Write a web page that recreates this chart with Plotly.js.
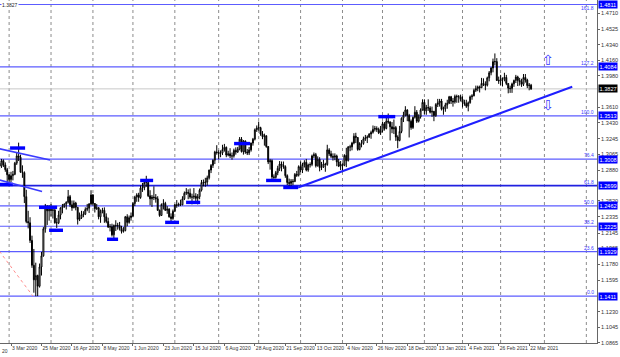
<!DOCTYPE html>
<html><head><meta charset="utf-8">
<script src="https://cdn.plot.ly/plotly-3.0.1.min.js"></script>
<style>html,body{margin:0;padding:0;background:#fff;}#chart{width:620px;height:357px;}</style>
</head><body><div id="chart"></div>
<script>
// ---- trading days (daily bars, GBP/USD style chart) ----
const tradingDays = [
 "2020-02:24 25 26 27 28",
 "2020-03:2 3 4 5 6 9 10 11 12 13 16 17 18 19 20 23 24 25 26 27 30 31",
 "2020-04:1 2 3 6 7 8 9 10 13 14 15 16 17 20 21 22 23 24 27 28 29 30",
 "2020-05:1 4 5 6 7 8 11 12 13 14 15 18 19 20 21 22 25 26 27 28 29",
 "2020-06:1 2 3 4 5 8 9 10 11 12 15 16 17 18 19 22 23 24 25 26 29 30",
 "2020-07:1 2 3 6 7 8 9 10 13 14 15 16 17 20 21 22 23 24 27 28 29 30 31",
 "2020-08:3 4 5 6 7 10 11 12 13 14 17 18 19 20 21 24 25 26 27 28 31",
 "2020-09:1 2 3 4 7 8 9 10 11 14 15 16 17 18 21 22 23 24 25 28 29 30",
 "2020-10:1 2 5 6 7 8 9 12 13 14 15 16 19 20 21 22 23 26 27 28 29 30",
 "2020-11:2 3 4 5 6 9 10 11 12 13 16 17 18 19 20 23 24 25 26 27 30",
 "2020-12:1 2 3 4 7 8 9 10 11 14 15 16 17 18 21 22 23 24 28 29 30 31",
 "2021-01:4 5 6 7 8 11 12 13 14 15 18 19 20 21 22 25 26 27 28 29",
 "2021-02:1 2 3 4 5 8 9 10 11 12 15 16 17 18 19 22 23 24 25 26",
 "2021-03:1 2 3 4 5 8 9 10 11 12 15 16 17 18 19 22 23"
];
// empty future bars shown on the right of the chart
const futureDays = [
 "2021-03:24 25 26 29 30 31",
 "2021-04:1 2 5 6 7 8 9 12 13 14 15 16 19 20 21 22 23 26 27 28 29 30",
 "2021-05:3 4 5 6 7 10 11 12"
];

const open = [
 1.2960,1.2925,1.2990,1.2940,1.2885,
 1.2825,1.2770,1.2815,1.2830,1.2960,1.3045,1.3030,1.2855,1.2850,1.2570,1.2280,1.2265,1.2060,1.1770,1.1600,1.1650,1.1525,1.1750,1.1880,1.2195,1.2460,1.2405,
 1.2420,1.2410,1.2415,1.2265,1.2265,1.2355,1.2440,1.2455,1.2485,1.2505,1.2570,1.2475,1.2440,1.2495,1.2445,1.2305,1.2325,1.2360,1.2365,1.2420,1.2435,1.2485,
 1.2590,1.2490,1.2430,1.2440,1.2335,1.2400,1.2410,1.2335,1.2280,1.2215,1.2220,1.2125,1.2235,1.2230,1.2235,1.2200,1.2165,1.2175,1.2335,1.2270,1.2325,
 1.2345,1.2490,1.2565,1.2590,1.2560,1.2670,1.2675,1.2735,1.2735,1.2580,1.2545,1.2565,1.2560,1.2545,1.2410,1.2350,1.2480,1.2490,1.2410,1.2425,1.2335,1.2315,
 1.2400,1.2475,1.2470,1.2480,1.2475,1.2545,1.2610,1.2620,1.2610,1.2565,1.2565,1.2575,1.2550,1.2570,1.2645,1.2735,1.2730,1.2740,1.2790,1.2880,1.2935,1.2995,1.3090,
 1.3085,1.3075,1.3080,1.3120,1.3145,1.3055,1.3070,1.3045,1.3045,1.3110,1.3090,1.3125,1.3240,1.3095,1.3220,1.3090,1.3080,1.3115,1.3195,1.3240,1.3350,
 1.3370,1.3375,1.3300,1.3270,1.3280,1.3155,1.2975,1.2990,1.2800,1.2795,1.2850,1.2900,1.2950,1.2935,1.2920,1.2815,1.2735,1.2725,1.2750,1.2745,1.2830,1.2820,
 1.2920,1.2880,1.2945,1.2970,1.2880,1.2940,1.2945,1.3045,1.3060,1.2930,1.3005,1.2910,1.2915,1.2950,1.2945,1.3115,1.3070,1.3040,1.3030,1.3045,1.2975,1.2925,
 1.2945,1.2935,1.3050,1.2990,1.3150,1.3150,1.3195,1.3275,1.3260,1.3120,1.3190,1.3190,1.3245,1.3255,1.3265,1.3300,1.3320,1.3355,1.3365,1.3355,1.3315,
 1.3340,1.3420,1.3365,1.3450,1.3440,1.3385,1.3360,1.3375,1.3265,1.3225,1.3330,1.3485,1.3520,1.3580,1.3515,1.3450,1.3375,1.3495,1.3555,1.3450,1.3500,1.3580,
 1.3670,1.3570,1.3610,1.3605,1.3555,1.3565,1.3515,1.3645,1.3665,1.3685,1.3590,1.3595,1.3640,1.3660,1.3735,1.3685,1.3675,1.3740,1.3735,1.3735,
 1.3705,1.3670,1.3655,1.3625,1.3665,1.3735,1.3745,1.3810,1.3830,1.3850,1.3840,1.3890,1.3880,1.3870,1.3955,1.4015,1.4070,1.4145,1.4145,1.3925,
 1.3920,1.3935,1.3950,1.3960,1.3890,1.3835,1.3830,1.3885,1.3925,1.3965,1.3925,1.3910,1.3880,1.3960,1.3930,1.3865,1.3870
];
const high = [
 1.2985,1.3010,1.3005,1.2970,1.2905,
 1.2830,1.2860,1.2870,1.2975,1.3080,1.3200,1.3060,1.2935,1.2865,1.2650,1.2405,1.2330,1.2115,1.1960,1.1800,1.1660,1.1790,1.1925,1.2215,1.2485,1.2470,1.2470,
 1.2485,1.2445,1.2425,1.2320,1.2405,1.2445,1.2485,1.2490,1.2515,1.2648,1.2590,1.2525,1.2525,1.2510,1.2450,1.2385,1.2405,1.2400,1.2445,1.2485,1.2495,1.2645,
 1.2600,1.2495,1.2485,1.2450,1.2420,1.2440,1.2445,1.2375,1.2325,1.2250,1.2255,1.2245,1.2295,1.2265,1.2275,1.2230,1.2215,1.2345,1.2365,1.2350,1.2385,
 1.2505,1.2580,1.2610,1.2615,1.2700,1.2730,1.2745,1.2813,1.2745,1.2645,1.2590,1.2690,1.2600,1.2575,1.2420,1.2490,1.2540,1.2510,1.2460,1.2435,1.2375,1.2420,
 1.2485,1.2530,1.2500,1.2535,1.2575,1.2630,1.2670,1.2655,1.2665,1.2605,1.2670,1.2610,1.2600,1.2665,1.2765,1.2770,1.2790,1.2815,1.2885,1.2950,1.3005,1.3105,1.3170,
 1.3110,1.3110,1.3175,1.3185,1.3155,1.3105,1.3135,1.3085,1.3130,1.3145,1.3150,1.3265,1.3265,1.3230,1.3225,1.3125,1.3150,1.3200,1.3255,1.3365,1.3400,
 1.3445,1.3385,1.3335,1.3305,1.3285,1.3160,1.3010,1.3005,1.2830,1.2870,1.2930,1.2985,1.2980,1.2980,1.2935,1.2830,1.2780,1.2775,1.2775,1.2845,1.2870,1.2935,
 1.2980,1.2965,1.2995,1.3010,1.2955,1.2970,1.3060,1.3085,1.3080,1.3040,1.3030,1.2975,1.3000,1.2965,1.3175,1.3135,1.3105,1.3075,1.3075,1.3060,1.3010,1.2985,
 1.2960,1.3065,1.3140,1.3160,1.3175,1.3210,1.3310,1.3315,1.3265,1.3205,1.3230,1.3270,1.3290,1.3285,1.3310,1.3340,1.3400,1.3395,1.3390,1.3375,1.3395,
 1.3445,1.3440,1.3500,1.3540,1.3450,1.3440,1.3470,1.3395,1.3285,1.3395,1.3495,1.3560,1.3625,1.3590,1.3535,1.3470,1.3505,1.3625,1.3580,1.3530,1.3600,1.3705,
 1.3705,1.3640,1.3705,1.3625,1.3620,1.3570,1.3660,1.3710,1.3710,1.3710,1.3620,1.3665,1.3700,1.3745,1.3745,1.3720,1.3760,1.3760,1.3755,1.3760,
 1.3740,1.3700,1.3700,1.3680,1.3750,1.3765,1.3830,1.3865,1.3865,1.3865,1.3955,1.3950,1.3915,1.3970,1.4035,1.4080,1.4180,1.4240,1.4185,1.3970,
 1.3990,1.3960,1.4015,1.3990,1.3895,1.3865,1.3900,1.3935,1.3990,1.3980,1.3955,1.3945,1.4000,1.4000,1.3945,1.3895,1.3885
];
const low = [
 1.2890,1.2905,1.2915,1.2860,1.2725,
 1.2725,1.2740,1.2760,1.2820,1.2940,1.2985,1.2850,1.2790,1.2495,1.2260,1.2200,1.2030,1.1740,1.1450,1.1409,1.1410,1.1510,1.1650,1.1870,1.2150,1.2240,1.2290,
 1.2340,1.2315,1.2255,1.2205,1.2250,1.2305,1.2375,1.2440,1.2420,1.2490,1.2450,1.2405,1.2435,1.2410,1.2245,1.2285,1.2310,1.2330,1.2355,1.2400,1.2380,1.2470,
 1.2465,1.2385,1.2415,1.2305,1.2265,1.2375,1.2265,1.2260,1.2205,1.2165,1.2105,1.2075,1.2170,1.2185,1.2175,1.2140,1.2150,1.2165,1.2225,1.2255,1.2290,
 1.2330,1.2460,1.2510,1.2510,1.2545,1.2625,1.2645,1.2685,1.2565,1.2470,1.2450,1.2530,1.2500,1.2405,1.2335,1.2345,1.2420,1.2405,1.2370,1.2325,1.2252,1.2300,
 1.2390,1.2440,1.2455,1.2460,1.2470,1.2530,1.2590,1.2540,1.2545,1.2480,1.2540,1.2520,1.2480,1.2540,1.2630,1.2690,1.2685,1.2700,1.2770,1.2845,1.2905,1.2950,1.3060,
 1.3005,1.3030,1.3055,1.3095,1.3030,1.3040,1.3020,1.3000,1.3025,1.3060,1.3080,1.3110,1.3085,1.3060,1.3070,1.3055,1.3055,1.3095,1.3165,1.3225,1.3325,
 1.3340,1.3280,1.3240,1.3165,1.3140,1.2950,1.2885,1.2775,1.2765,1.2780,1.2820,1.2870,1.2865,1.2895,1.2790,1.2705,1.2675,1.2690,1.2705,1.2740,1.2800,1.2805,
 1.2855,1.2845,1.2910,1.2865,1.2860,1.2910,1.2925,1.3020,1.2910,1.2920,1.2865,1.2880,1.2905,1.2860,1.2930,1.3045,1.3020,1.2990,1.2995,1.2925,1.2915,1.2880,
 1.2855,1.2925,1.2915,1.2980,1.3100,1.3110,1.3180,1.3195,1.3105,1.3110,1.3145,1.3175,1.3220,1.3195,1.3255,1.3245,1.3305,1.3330,1.3325,1.3300,1.3290,
 1.3320,1.3340,1.3355,1.3420,1.3225,1.3310,1.3300,1.3220,1.3135,1.3215,1.3310,1.3440,1.3505,1.3450,1.3260,1.3350,1.3360,1.3480,1.3430,1.3435,1.3480,1.3575,
 1.3530,1.3525,1.3570,1.3540,1.3500,1.3450,1.3500,1.3615,1.3620,1.3575,1.3525,1.3560,1.3595,1.3650,1.3650,1.3620,1.3655,1.3665,1.3665,1.3680,
 1.3610,1.3630,1.3605,1.3565,1.3655,1.3700,1.3740,1.3790,1.3800,1.3785,1.3840,1.3860,1.3810,1.3855,1.3915,1.3985,1.4020,1.4100,1.3920,1.3885,
 1.3865,1.3855,1.3915,1.3870,1.3775,1.3780,1.3780,1.3850,1.3895,1.3860,1.3865,1.3850,1.3860,1.3900,1.3835,1.3810,1.3815
];
const close = [
 1.2925,1.2990,1.2940,1.2885,1.2825,
 1.2770,1.2815,1.2830,1.2960,1.3045,1.3030,1.2855,1.2850,1.2570,1.2280,1.2265,1.2060,1.1770,1.1600,1.1650,1.1525,1.1750,1.1880,1.2195,1.2460,1.2405,1.2420,
 1.2410,1.2415,1.2265,1.2265,1.2355,1.2440,1.2455,1.2485,1.2505,1.2570,1.2475,1.2440,1.2495,1.2445,1.2305,1.2325,1.2360,1.2365,1.2420,1.2435,1.2485,1.2590,
 1.2490,1.2430,1.2440,1.2335,1.2400,1.2410,1.2335,1.2280,1.2215,1.2220,1.2125,1.2235,1.2230,1.2235,1.2200,1.2165,1.2175,1.2335,1.2270,1.2325,1.2345,
 1.2490,1.2565,1.2590,1.2560,1.2670,1.2675,1.2735,1.2735,1.2580,1.2545,1.2565,1.2560,1.2545,1.2410,1.2350,1.2480,1.2490,1.2410,1.2425,1.2335,1.2315,1.2400,
 1.2475,1.2470,1.2480,1.2475,1.2545,1.2610,1.2620,1.2610,1.2565,1.2565,1.2575,1.2550,1.2570,1.2645,1.2735,1.2730,1.2740,1.2790,1.2880,1.2935,1.2995,1.3090,1.3085,
 1.3075,1.3080,1.3120,1.3145,1.3055,1.3070,1.3045,1.3045,1.3110,1.3090,1.3125,1.3240,1.3095,1.3220,1.3090,1.3080,1.3115,1.3195,1.3240,1.3350,1.3370,
 1.3375,1.3300,1.3270,1.3280,1.3155,1.2975,1.2990,1.2800,1.2795,1.2850,1.2900,1.2950,1.2935,1.2920,1.2815,1.2735,1.2725,1.2750,1.2745,1.2830,1.2820,1.2920,
 1.2880,1.2945,1.2970,1.2880,1.2940,1.2945,1.3045,1.3060,1.2930,1.3005,1.2910,1.2915,1.2950,1.2945,1.3115,1.3070,1.3040,1.3030,1.3045,1.2975,1.2925,1.2945,
 1.2935,1.3050,1.2990,1.3150,1.3150,1.3195,1.3275,1.3260,1.3120,1.3190,1.3190,1.3245,1.3255,1.3265,1.3300,1.3320,1.3355,1.3365,1.3355,1.3315,1.3340,
 1.3420,1.3365,1.3450,1.3440,1.3385,1.3360,1.3375,1.3265,1.3225,1.3330,1.3485,1.3520,1.3580,1.3515,1.3450,1.3375,1.3495,1.3555,1.3450,1.3500,1.3580,1.3670,
 1.3570,1.3610,1.3605,1.3555,1.3565,1.3515,1.3645,1.3665,1.3685,1.3590,1.3595,1.3640,1.3660,1.3735,1.3685,1.3675,1.3740,1.3735,1.3735,1.3705,
 1.3670,1.3655,1.3625,1.3665,1.3735,1.3745,1.3810,1.3830,1.3850,1.3840,1.3890,1.3880,1.3870,1.3955,1.4015,1.4070,1.4145,1.4145,1.3925,1.3920,
 1.3935,1.3950,1.3960,1.3890,1.3835,1.3830,1.3885,1.3925,1.3965,1.3925,1.3910,1.3880,1.3960,1.3930,1.3865,1.3870,1.3827
];

// ---- axis labels ----
const tickDates = ["2020-03-03","2020-03-25","2020-04-16","2020-05-08","2020-06-01","2020-06-23","2020-07-15","2020-08-06","2020-08-28","2020-09-21","2020-10-13","2020-11-04","2020-11-26","2020-12-18","2021-01-13","2021-02-04","2021-02-26","2021-03-22"];
const tickLabels = ["3 Mar 2020","25 Mar 2020","16 Apr 2020","8 May 2020","1 Jun 2020","23 Jun 2020","15 Jul 2020","6 Aug 2020","28 Aug 2020","21 Sep 2020","13 Oct 2020","4 Nov 2020","26 Nov 2020","18 Dec 2020","13 Jan 2021","4 Feb 2021","26 Feb 2021","22 Mar 2021"];
const leftEdgeLabel = "20";   // tail of the previous date label, cut by the chart's left edge
const priceTicks = [1.4710,1.4525,1.4340,1.4160,1.3980,1.3610,1.3430,1.3245,1.3065,1.2880,1.2520,1.2335,1.2145,1.1965,1.1780,1.1595,1.1230,1.1045,1.0865];

// ---- Fibonacci levels ----
const fibLevels = [1.4811,1.4084,1.3513,1.3008,1.2699,1.2462,1.2225,1.1929,1.1411];
const fibNames = ["161.8","127.2","100.0","76.4","61.8","50.0","38.2","23.6","0.0"];
const currentPrice = 1.3827;

// ---- drawn objects (bar index, price) ----
const boxX0 = [5.5, -2, 20.7, 26.0, 56.4, 73.8, 86.9, 97.9, 123.1, 139.9, 148.9, 198.8];
const boxX1 = [13.4, 7.0, 30.2, 33.3, 62.2, 80.6, 94.2, 105.3, 131.5, 147.8, 156.7, 207.7];
const boxY  = [1.3137,1.2712,1.2445,1.2178,1.2073,1.2759,1.2270,1.2503,1.3189,1.2759,1.2677,1.3503];
const trendMainX = [156.7, 300.6], trendMainY = [1.2677, 1.3852];
const trendUpX = [-2, 26.5], trendUpY = [1.3138, 1.2997];
const trendLoX = [-2, 22.3], trendLoY = [1.2776, 1.2631];
const redDotX = [-2, 17.5], redDotY = [1.1990, 1.1410];
const arrowBar = 288, arrowUpY = 1.4166, arrowDownY = 1.3642;

// ---- build ----
function expand(list){ const out=[]; list.forEach(s=>{ const [ym,ds]=s.split(':'); ds.split(' ').forEach(d=>out.push(ym+'-'+String(d).padStart(2,'0'))); }); return out; }
const dates = expand(tradingDays);
const allDates = dates.concat(expand(futureDays));
const xIdx = dates.map((d,i)=>i);
const tickVals = tickDates.map(d=>dates.indexOf(d));
const gridIdx = [];
allDates.forEach((d,i)=>{ if(i>0 && d.slice(0,7)!==allDates[i-1].slice(0,7)) gridIdx.push(i); });

const FONT = 'Liberation Sans, Arial, sans-serif';
const trace = {
  type:'candlestick', x:xIdx, open:open, high:high, low:low, close:close,
  increasing:{line:{color:'#000000', width:1}, fillcolor:'#ffffff'},
  decreasing:{line:{color:'#000000', width:1}, fillcolor:'#000000'},
  whiskerwidth:0, hoverinfo:'skip', showlegend:false
};

const shapes = [];
gridIdx.forEach(i=>shapes.push({type:'line', xref:'x', yref:'paper', x0:i, x1:i, y0:0, y1:1, line:{color:'#8c8c8c', width:1, dash:'dot'}, layer:'below'}));
fibLevels.forEach((v,k)=>shapes.push({type:'line', xref:'paper', yref:'y', x0:0, x1:1, y0:v, y1:v,
  line:{color: k===4 ? '#2020e0' : '#5c5cff', width: k===4 ? 1.7 : 1.2}, layer:'below'}));
shapes.push({type:'line', xref:'paper', yref:'y', x0:0, x1:1, y0:currentPrice, y1:currentPrice, line:{color:'#c8c8c8', width:1}, layer:'below'});
boxX0.forEach((x0,k)=>shapes.push({type:'rect', xref:'x', yref:'y', x0:x0, x1:boxX1[k], y0:boxY[k]-0.0020, y1:boxY[k]+0.0020, fillcolor:'#0000ff', line:{width:0}}));
shapes.push({type:'line', xref:'x', yref:'y', x0:trendMainX[0], x1:trendMainX[1], y0:trendMainY[0], y1:trendMainY[1], line:{color:'#1f1fff', width:2}});
shapes.push({type:'line', xref:'x', yref:'y', x0:trendUpX[0], x1:trendUpX[1], y0:trendUpY[0], y1:trendUpY[1], line:{color:'#3a3aff', width:1.5}});
shapes.push({type:'line', xref:'x', yref:'y', x0:trendLoX[0], x1:trendLoX[1], y0:trendLoY[0], y1:trendLoY[1], line:{color:'#3a3aff', width:1.5}});
shapes.push({type:'line', xref:'x', yref:'y', x0:redDotX[0], x1:redDotX[1], y0:redDotY[0], y1:redDotY[1], line:{color:'#ff8f8f', width:1, dash:'dot'}});

const annotations = [];
fibLevels.forEach((v,k)=>{
  annotations.push({xref:'paper', yref:'y', x:1, y:v, xanchor:'right', yanchor: k===0 ? 'top' : 'bottom', xshift:-1, yshift: k===0 ? 1 : -1,
    text:fibNames[k], showarrow:false, font:{family:FONT, size:5, color:'#4040ff'}});
  annotations.push({xref:'paper', yref:'y', x:1, y:v, xanchor:'left', yanchor:'middle', xshift:1,
    text:v.toFixed(4), showarrow:false, bgcolor:'#0000ff', borderpad:0.5, font:{family:FONT, size:5.6, color:'#ffffff'}});
});
annotations.push({xref:'paper', yref:'y', x:1, y:currentPrice, xanchor:'left', yanchor:'middle', xshift:1,
  text:currentPrice.toFixed(4), showarrow:false, bgcolor:'#000000', borderpad:0.5, font:{family:FONT, size:5.6, color:'#ffffff'}});
annotations.push({xref:'x', yref:'y', x:arrowBar, y:arrowUpY, text:'⇧', showarrow:false, font:{family:'DejaVu Sans', size:14, color:'#3a3aff'}});
annotations.push({xref:'x', yref:'y', x:arrowBar, y:arrowDownY, text:'⇩', showarrow:false, font:{family:'DejaVu Sans', size:14, color:'#3a3aff'}});
annotations.push({xref:'paper', yref:'paper', x:0, y:1, xanchor:'left', yanchor:'top', xshift:1, yshift:-1,
  text:currentPrice.toFixed(4), showarrow:false, bgcolor:'#ffffff', borderpad:0, font:{family:FONT, size:5, color:'#222'}});
annotations.push({xref:'paper', yref:'paper', x:0, y:0, xanchor:'left', yanchor:'top', xshift:0, yshift:-3,
  text:leftEdgeLabel, showarrow:false, font:{family:FONT, size:5, color:'#333'}});

const layout = {
  width:620, height:357,
  margin:{l:0, r:23, t:0, b:14, pad:0},
  paper_bgcolor:'#ffffff', plot_bgcolor:'#ffffff',
  showlegend:false, dragmode:false,
  xaxis:{range:[0.22, 313.6], tickmode:'array', tickvals:tickVals, ticktext:tickLabels, tickangle:0,
    ticklabelposition:'outside right', ticks:'outside', ticklen:2, tickcolor:'#666',
    tickfont:{family:FONT, size:5, color:'#333'}, showgrid:false, zeroline:false,
    showline:true, linecolor:'#666', linewidth:1, mirror:true,
    rangeslider:{visible:false}, fixedrange:true},
  yaxis:{range:[1.08633, 1.48633], side:'right', tickmode:'array', tickvals:priceTicks,
    ticktext:priceTicks.map(v=>v.toFixed(4)), ticks:'outside', ticklen:2, tickcolor:'#666',
    tickfont:{family:FONT, size:5.6, color:'#333'}, showgrid:false, zeroline:false,
    showline:true, linecolor:'#666', linewidth:1, mirror:true, fixedrange:true},
  shapes:shapes, annotations:annotations
};
Plotly.newPlot('chart', [trace], layout, {staticPlot:true, displayModeBar:false});
</script>
</body></html>
